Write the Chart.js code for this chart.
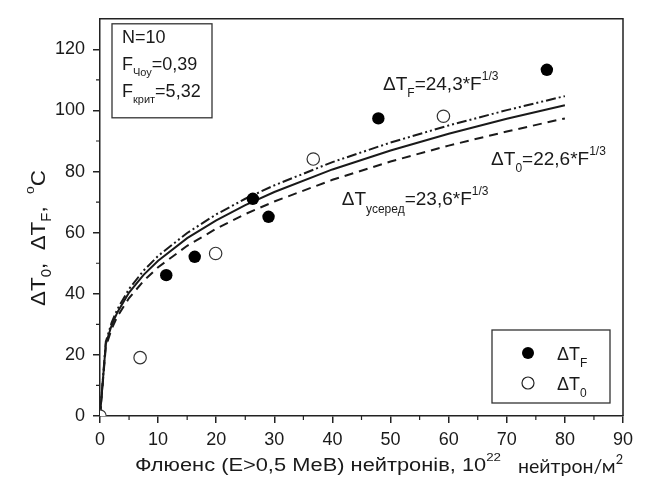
<!DOCTYPE html>
<html>
<head>
<meta charset="utf-8">
<script src="https://cdn.jsdelivr.net/npm/chart.js@4.4.0/dist/chart.umd.min.js"></script>
<style>
  html, body { margin: 0; padding: 0; background: #fff; }
  canvas { display: block; }
</style>
</head>
<body>
<canvas id="chart" width="646" height="496"></canvas>
<script>
// measured points (fluence, 10^22 n/m2 ; shift, °C)
const fluenceF = [11.4, 16.3, 26.3, 29.0, 47.9, 76.9];
const shiftF = [46.1, 52.1, 71.1, 65.2, 97.4, 113.3];
const fluence0 = [0, 6.9, 19.9, 36.7, 59.1];
const shift0 = [0, 19.1, 53.2, 84.1, 98.1];

// fitted curves
const fluenceFit = [0, 1, 2, 3, 5, 7.5, 10, 15, 20, 25, 30, 40, 50, 60, 70, 80];
const fitF = [0, 24.3, 30.6, 35.0, 41.6, 47.6, 52.4, 59.9, 66.0, 71.1, 75.5, 83.1, 89.5, 95.1, 100.1, 104.7];
const fitAvg = [0, 23.6, 29.7, 34.0, 40.4, 46.2, 50.8, 58.2, 64.0, 69.0, 73.3, 80.7, 86.9, 92.4, 97.3, 101.7];
const fit0 = [0, 22.6, 28.5, 32.6, 38.6, 44.2, 48.7, 55.7, 61.3, 66.1, 70.2, 77.3, 83.3, 88.5, 93.1, 97.4];

const xTicksMajor = [0, 10, 20, 30, 40, 50, 60, 70, 80, 90];
const xTicksMinor = [5, 15, 25, 35, 45, 55, 65, 75, 85];
const yTicksMajor = [0, 20, 40, 60, 80, 100, 120];
const yTicksMinor = [10, 30, 50, 70, 90, 110];

const FONT = '"Liberation Sans", Arial, sans-serif';
const INK = '#1a1a1a';

const pts = (xs, ys) => xs.map((x, i) => ({ x: x, y: ys[i] }));

// draw a run of text pieces (sub/superscripts) left to right
function runsWidth(ctx, runs) {
    let w = 0;
    runs.forEach(r => {
        ctx.font = r.size + 'px ' + (r.family || FONT);
        w += ctx.measureText(r.t).width;
    });
    return w;
}
function drawRuns(ctx, x, y, runs, fitWidth) {
    const w = runsWidth(ctx, runs);
    const sx = fitWidth ? fitWidth / w : 1;
    ctx.save();
    ctx.translate(x, y);
    ctx.scale(sx, 1);
    ctx.fillStyle = INK;
    ctx.textBaseline = 'alphabetic';
    ctx.textAlign = 'left';
    let cx = 0;
    runs.forEach(r => {
        ctx.font = r.size + 'px ' + (r.family || FONT);
        ctx.fillText(r.t, cx, r.dy || 0);
        cx += ctx.measureText(r.t).width;
    });
    ctx.restore();
    return w * sx;
}

const decorPlugin = {
    id: 'decor',
    afterDraw(chart) {
        const ctx = chart.ctx;
        const xs = chart.scales.x, ys = chart.scales.y;
        const a = chart.chartArea;

        ctx.save();
        // frame top + right
        ctx.strokeStyle = '#222';
        ctx.lineWidth = 1.5;
        ctx.beginPath();
        ctx.moveTo(a.left, a.top);
        ctx.lineTo(a.right, a.top);
        ctx.lineTo(a.right, a.bottom);
        ctx.stroke();

        // minor ticks
        ctx.lineWidth = 1.2;
        ctx.beginPath();
        xTicksMinor.forEach(v => {
            const px = xs.getPixelForValue(v);
            ctx.moveTo(px, a.bottom);
            ctx.lineTo(px, a.bottom + 4);
        });
        yTicksMinor.forEach(v => {
            const py = ys.getPixelForValue(v);
            ctx.moveTo(a.left - 4, py);
            ctx.lineTo(a.left, py);
        });
        ctx.stroke();

        // info box
        ctx.lineWidth = 1.3;
        ctx.strokeStyle = '#333';
        ctx.strokeRect(a.left + 12, a.top + 5, 100, 94);
        drawRuns(ctx, a.left + 22, 43, [{ t: 'N=10', size: 18 }]);
        drawRuns(ctx, a.left + 22, 70, [
            { t: 'F', size: 18 }, { t: 'Чоу', size: 11, dy: 6 }, { t: '=0,39', size: 18 }]);
        drawRuns(ctx, a.left + 22, 97, [
            { t: 'F', size: 18 }, { t: 'крит', size: 11, dy: 6 }, { t: '=5,32', size: 18 }]);

        // legend box
        const lx = 492, ly = 330, lw = 118, lh = 73;
        ctx.strokeRect(lx, ly, lw, lh);
        ctx.fillStyle = '#000';
        ctx.beginPath();
        ctx.arc(lx + 36, ly + 23, 6, 0, Math.PI * 2);
        ctx.fill();
        ctx.fillStyle = '#fff';
        ctx.strokeStyle = '#222';
        ctx.lineWidth = 1.2;
        ctx.beginPath();
        ctx.arc(lx + 36, ly + 53, 6, 0, Math.PI * 2);
        ctx.fill();
        ctx.stroke();
        drawRuns(ctx, lx + 65, ly + 30, [{ t: 'ΔT', size: 18 }, { t: 'F', size: 12, dy: 7 }]);
        drawRuns(ctx, lx + 65, ly + 60, [{ t: 'ΔT', size: 18 }, { t: '0', size: 12, dy: 7 }]);

        // curve labels, anchored in data units
        drawRuns(ctx, xs.getPixelForValue(48.7), ys.getPixelForValue(106.8), [
            { t: 'ΔT', size: 19 }, { t: 'F', size: 12, dy: 7 }, { t: '=24,3*F', size: 19 }, { t: '1/3', size: 12, dy: -10 }]);
        drawRuns(ctx, xs.getPixelForValue(67.3), ys.getPixelForValue(82.0), [
            { t: 'ΔT', size: 19 }, { t: '0', size: 12, dy: 7 }, { t: '=22,6*F', size: 19 }, { t: '1/3', size: 12, dy: -10 }]);
        drawRuns(ctx, xs.getPixelForValue(41.6), ys.getPixelForValue(68.9), [
            { t: 'ΔT', size: 19 }, { t: 'усеред', size: 12, dy: 8 }, { t: '=23,6*F', size: 19 }, { t: '1/3', size: 12, dy: -10 }]);

        // x axis title
        drawRuns(ctx, 135, 471, [
            { t: 'Флюенс (Е>0,5 МеВ) нейтронів, 10', size: 18 }, { t: '22', size: 11, dy: -10 }], 366);
        drawRuns(ctx, 518, 473, [
            { t: 'нейтрон/м', size: 20, family: 'Lato, "Noto Sans", sans-serif' },
            { t: '2', size: 13, dy: -9, family: 'Lato, "Noto Sans", sans-serif' }], 105);

        // y axis title (rotated)
        const yRuns = [
            { t: 'ΔT', size: 21 }, { t: '0', size: 14, dy: 6 }, { t: ',  ', size: 21 },
            { t: 'ΔT', size: 21 }, { t: 'F', size: 14, dy: 6 }, { t: ',  ', size: 21 },
            { t: 'o', size: 13, dy: -11 }, { t: 'C', size: 21 }];
        ctx.translate(45, 238);
        ctx.rotate(-Math.PI / 2);
        drawRuns(ctx, -68, 0, yRuns, 136);
        ctx.restore();
    }
};

new Chart(document.getElementById('chart'), {
    type: 'scatter',
    data: {
        datasets: [
            {
                label: 'ΔTF',
                data: pts(fluenceF, shiftF),
                pointRadius: 6.2,
                pointBackgroundColor: '#000',
                pointBorderColor: '#000',
                pointBorderWidth: 0,
                showLine: false
            },
            {
                label: 'ΔT0',
                data: pts(fluence0, shift0),
                pointRadius: 6.2,
                pointBackgroundColor: '#fff',
                pointBorderColor: '#333',
                pointBorderWidth: 1.2,
                showLine: false
            },
            {
                label: 'ΔTF fit',
                data: pts(fluenceFit, fitF),
                showLine: true,
                pointRadius: 0,
                borderColor: INK,
                borderWidth: 2,
                borderDash: [10, 3, 2, 3, 2, 3],
                tension: 0
            },
            {
                label: 'average fit',
                data: pts(fluenceFit, fitAvg),
                showLine: true,
                pointRadius: 0,
                borderColor: INK,
                borderWidth: 2,
                tension: 0
            },
            {
                label: 'ΔT0 fit',
                data: pts(fluenceFit, fit0),
                showLine: true,
                pointRadius: 0,
                borderColor: INK,
                borderWidth: 2,
                borderDash: [9, 6],
                tension: 0
            }
        ]
    },
    options: {
        responsive: false,
        animation: false,
        devicePixelRatio: 1,
        layout: { padding: { top: 12, right: 23, left: 0, bottom: 0 } },
        plugins: {
            legend: { display: false },
            tooltip: { enabled: false }
        },
        scales: {
            x: {
                type: 'linear',
                min: 0,
                max: 90,
                afterBuildTicks: s => { s.ticks = xTicksMajor.map(v => ({ value: v })); },
                afterFit: s => { s.height = 80; },
                ticks: { font: { family: FONT, size: 18 }, color: INK, padding: 6, maxRotation: 0 },
                grid: { drawOnChartArea: false, tickLength: 7, color: '#222', lineWidth: 1.5 },
                border: { color: '#222', width: 1.5 }
            },
            y: {
                type: 'linear',
                min: 0,
                max: 130,
                afterBuildTicks: s => { s.ticks = yTicksMajor.map(v => ({ value: v })); },
                afterFit: s => { s.width = 100; },
                ticks: { font: { family: FONT, size: 18 }, color: INK, padding: 8 },
                grid: { drawOnChartArea: false, tickLength: 7, color: '#222', lineWidth: 1.5 },
                border: { color: '#222', width: 1.5 }
            }
        }
    },
    plugins: [decorPlugin]
});
</script>
</body>
</html>
